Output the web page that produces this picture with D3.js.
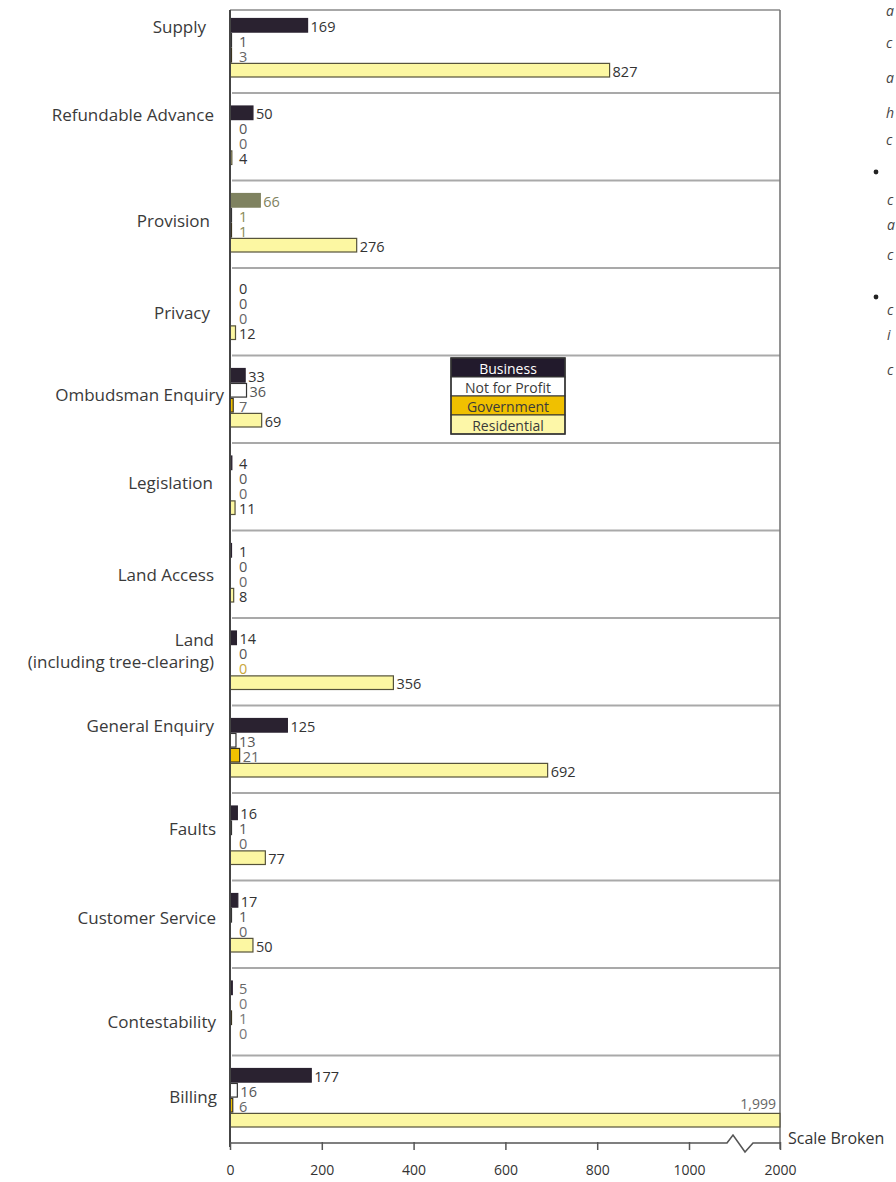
<!DOCTYPE html>
<html>
<head>
<meta charset="utf-8">
<script src="https://cdn.jsdelivr.net/npm/d3@7"></script>
<style>
  html, body { margin: 0; padding: 0; background: #fff; }
  svg { display: block; }
  text { font-family: "Open Sans", "Noto Sans", sans-serif; }
</style>
</head>
<body>
<svg id="chart" width="896" height="1182"></svg>
<script>
// Enquiry categories, top to bottom
const categories = [
  "Supply", "Refundable Advance", "Provision", "Privacy", "Ombudsman Enquiry",
  "Legislation", "Land Access", "Land\n(including tree-clearing)", "General Enquiry",
  "Faults", "Customer Service", "Contestability", "Billing"
];
// Customer groups
const seriesNames = ["Business", "Not for Profit", "Government", "Residential"];
// Counts per customer group, in category order
const business     = [169, 50, 66, 0, 33, 4, 1, 14, 125, 16, 17, 5, 177];
const notForProfit = [1, 0, 1, 0, 36, 0, 0, 0, 13, 1, 1, 0, 16];
const government   = [3, 0, 1, 0, 7, 0, 0, 0, 21, 0, 0, 1, 6];
const residential  = [827, 4, 276, 12, 69, 11, 8, 356, 692, 77, 50, 0, 1999];
// Axis ticks (the scale is broken between 1000 and 2000)
const tickValues = [0, 200, 400, 600, 800, 1000, 2000];
const tickLabels = ["0", "200", "400", "600", "800", "1000", "2000"];

const seriesValues = [business, notForProfit, government, residential];

// ---- presentation ----
const fills   = { "Business": "#2a2230", "Not for Profit": "#ffffff", "Government": "#f2c200", "Residential": "#fcf7a2" };
const strokes = { "Business": "#2a2230", "Not for Profit": "#333333", "Government": "#3a3320", "Residential": "#55523a" };
const labelInk = { "Business": "#333", "Not for Profit": "#555", "Government": "#666", "Residential": "#333" };
// a few marks printed in a different tint
const tinted = { "Provision|Business": "#7f8260", "Provision|Not for Profit": "#8a8a55", "Provision|Government": "#8a8a55",
                 "Land\n(including tree-clearing)|Government": "#c9a63a",
                 "Contestability|Business": "#666", "Contestability|Not for Profit": "#777",
                 "Contestability|Government": "#777", "Contestability|Residential": "#777" };
// placement of each category name relative to its row
const nameDy = [21.5, 22, 41, 45, 40, 40, 45, 22, 21, 36, 38, 54, 42];
const nameDx = [-10, -2, -6, -6, 8, -3, -2, -2, -2, 0, 0, 0, 1];

const svg = d3.select("#chart");
const fmt = d3.format(",");

const x = d3.scaleLinear().domain([0, 1000, 2000]).range([230, 689, 780]);
const y = d3.scaleBand().domain(categories).range([5.5, 1143]);
const inner = d3.scaleBand().domain(seriesNames).range([13, 71.5]).paddingInner(0.09);

const plotLeft = x(0), plotRight = x(2000), axisY = y.range()[1];

// row separators
svg.append("g").selectAll("line")
  .data(categories.slice(1))
  .join("line")
  .attr("x1", plotLeft + 2).attr("x2", plotRight)
  .attr("y1", d => y(d)).attr("y2", d => y(d))
  .attr("stroke", "#a9a9a9").attr("stroke-width", 1.8);

// frame top and right
svg.append("line").attr("x1", plotLeft).attr("x2", plotRight).attr("y1", 10).attr("y2", 10)
  .attr("stroke", "#8a8a8a").attr("stroke-width", 1.6);
svg.append("line").attr("x1", plotRight).attr("x2", plotRight).attr("y1", 10).attr("y2", axisY + 6)
  .attr("stroke", "#777").attr("stroke-width", 1.6);

// bars
const rows = svg.append("g").selectAll("g")
  .data(categories)
  .join("g")
  .attr("transform", d => `translate(0,${y(d)})`);

rows.each(function (cat, ci) {
  const g = d3.select(this);
  seriesNames.forEach((s, si) => {
    const v = seriesValues[si][ci];
    const key = cat + "|" + s;
    const by = inner(s), bh = inner.bandwidth();
    const barTint = s === "Business" && cat === "Provision" ? tinted[key] : null;
    if (v > 0) {
      g.append("rect")
        .attr("x", x(0)).attr("y", by)
        .attr("width", Math.max(x(v) - x(0), 1.5)).attr("height", bh)
        .attr("fill", barTint || fills[s])
        .attr("stroke", barTint || strokes[s])
        .attr("stroke-width", 1.2);
    }
    const ink = tinted[key] || labelInk[s];
    if (v >= 1000) {
      // value sits above the bar where the scale is broken
      g.append("text")
        .attr("x", x(v) - 4).attr("y", by - 4)
        .attr("text-anchor", "end")
        .attr("font-size", 14).attr("fill", "#666")
        .text(fmt(v));
    } else {
      g.append("text")
        .attr("x", Math.max(x(v), 236) + 3).attr("y", by + bh / 2 + 1)
        .attr("dominant-baseline", "central")
        .attr("font-size", 14.5).attr("fill", ink)
        .text(fmt(v));
    }
  });
});

// category names
svg.append("g").selectAll("text")
  .data(categories)
  .join("text")
  .attr("y", (d, i) => y(d) + nameDy[i])
  .attr("text-anchor", "end")
  .attr("font-size", 17)
  .attr("fill", "#3a3a3a")
  .each(function (d, i) {
    const t = d3.select(this);
    d.split("\n").forEach((ln, li) => {
      t.append("tspan").attr("x", 216 + nameDx[i]).attr("dy", li === 0 ? "0.35em" : 22).text(ln);
    });
  });

// left axis line
svg.append("line").attr("x1", plotLeft).attr("x2", plotLeft).attr("y1", 10).attr("y2", axisY + 4)
  .attr("stroke", "#444").attr("stroke-width", 2);

// bottom axis
const axis = d3.axisBottom(x)
  .tickValues(tickValues)
  .tickFormat((d, i) => tickLabels[i])
  .tickSize(7)
  .tickPadding(15);
const ax = svg.append("g").attr("transform", `translate(0,${axisY})`).call(axis);
ax.select(".domain").remove();
ax.selectAll(".tick line").attr("stroke", "#555").attr("stroke-width", 1.5).attr("y1", -1);
ax.selectAll(".tick text").attr("font-size", 14).attr("fill", "#333")
  .attr("font-family", "\"Open Sans\", \"Noto Sans\", sans-serif");

// axis baseline with break symbol
const bx = x(1000) + 38;
const base = d3.path();
base.moveTo(plotLeft, 0);
base.lineTo(bx, 0);
base.lineTo(bx + 6, -8);
base.lineTo(bx + 18, 9);
base.lineTo(bx + 26, 0);
base.lineTo(plotRight, 0);
ax.append("path").attr("d", base.toString()).attr("fill", "none")
  .attr("stroke", "#555").attr("stroke-width", 1.6);

svg.append("text").attr("x", 788).attr("y", axisY + 1)
  .attr("font-size", 16).attr("fill", "#333").text("Scale Broken");

// legend
const lg = svg.append("g").attr("transform", "translate(451,358)");
const lh = 19, lw = 114;
lg.selectAll("rect.key").data(seriesNames).join("rect")
  .attr("class", "key")
  .attr("x", 0).attr("y", (d, i) => i * lh)
  .attr("width", lw).attr("height", lh)
  .attr("fill", d => d === "Business" ? "#221a2c" : d === "Government" ? "#f0c000" : d === "Residential" ? "#fdf7a8" : "#fff")
  .attr("stroke", "#333").attr("stroke-width", 1);
lg.selectAll("text").data(seriesNames).join("text")
  .attr("x", lw / 2).attr("y", (d, i) => i * lh + lh / 2 + 1)
  .attr("text-anchor", "middle").attr("dominant-baseline", "central")
  .attr("font-size", 14)
  .attr("fill", d => d === "Business" ? "#fff" : "#3a3a3a")
  .text(d => d);
lg.append("rect").attr("width", lw).attr("height", lh * 4)
  .attr("fill", "none").attr("stroke", "#333").attr("stroke-width", 1.5);

// neighbouring column text at the page edge
const edge = svg.append("g").attr("fill", "#444").attr("font-size", 14).attr("font-style", "italic");
[[886, 16, "a"], [886, 48, "c"], [886, 83, "a"], [886, 118, "h"], [886, 145, "c"],
 [887, 205, "c"], [887, 230, "a"], [887, 260, "c"], [887, 315, "c"], [887, 340, "i"], [887, 375, "c"]]
  .forEach(([tx, ty, ch]) => edge.append("text").attr("x", tx).attr("y", ty).text(ch));
svg.append("circle").attr("cx", 876).attr("cy", 172).attr("r", 2.4).attr("fill", "#222");
svg.append("circle").attr("cx", 876).attr("cy", 297).attr("r", 2.4).attr("fill", "#222");
</script>
</body>
</html>
